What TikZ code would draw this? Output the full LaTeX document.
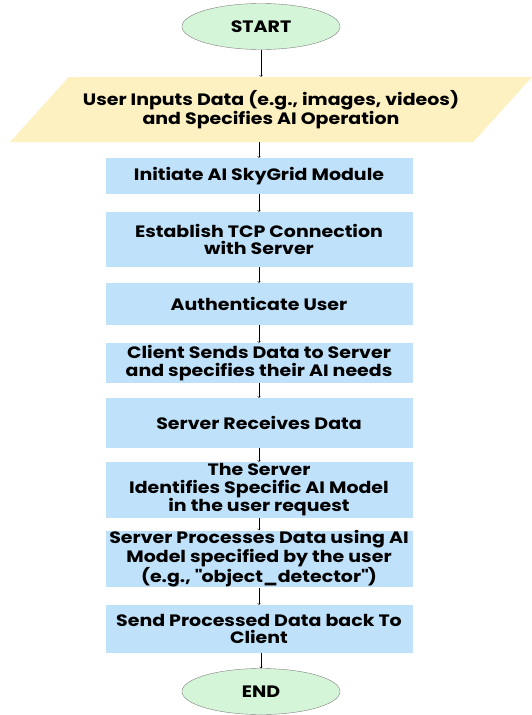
\documentclass[tikz,border=0pt]{standalone}
\usepackage{fontspec}
\setmainfont{Poppins}[FakeStretch=1.15]
\usetikzlibrary{shapes.geometric}

\definecolor{stepblue}{RGB}{191,226,250}
\definecolor{inputyellow}{RGB}{253,240,193}
\definecolor{termgreen}{RGB}{212,245,215}

\begin{document}
\begin{tikzpicture}[x=1pt,y=-1pt,
		font=\fontsize{16.5}{17.5}\selectfont\bfseries,
		term/.style={ellipse,draw=gray,fill=termgreen,minimum width=158pt,minimum height=46pt,inner sep=0pt},
		io/.style={trapezium,trapezium left angle=35,trapezium right angle=145,trapezium stretches,fill=inputyellow,minimum width=522pt,minimum height=65pt,align=center,inner sep=0pt},
		stepbox/.style={rectangle,fill=stepblue,minimum width=307pt,align=center,inner sep=0pt},
		flow/.style={->,thin}]
		\useasboundingbox (0,0) rectangle (531,715);
		\node[term](start) at (261,26.5) {START};
		\node[io](input) at (271,109.5) {User Inputs Data (e.g., images, videos)\\and Specifies AI Operation};
		\node[stepbox,minimum height=36pt](init) at (259,176) {Initiate AI SkyGrid Module};
		\node[stepbox,minimum height=55pt](tcp) at (259,239.5) {Establish TCP Connection\\with Server};
		\node[stepbox,minimum height=42pt](auth) at (259,304) {Authenticate User};
		\node[stepbox,minimum height=40pt](send) at (259,363) {Client Sends Data to Server\\and specifies their AI needs};
		\node[stepbox,minimum height=50pt](recv) at (259,423) {Server Receives Data};
		\node[stepbox,minimum height=56pt](ident) at (259,490) {The Server\\Identifies Specific AI Model\\in the user request};
		\node[stepbox,minimum height=52pt](proc) at (259,559) {Server Processes Data using AI\\Model specified by the user\\(e.g., \textquotedbl object\_detector\textquotedbl)};
		\node[stepbox,minimum height=48pt](back) at (259,629) {Send Processed Data back To\\Client};
		\node[term](end) at (261,691.5) {END};
		\draw[flow] (start.south) -- (start.south |- input.north);
		\draw[flow] (input.south -| init.north) -- (init.north);
		\draw[flow] (init) -- (tcp);
		\draw[flow] (tcp) -- (auth);
		\draw[flow] (auth) -- (send);
		\draw[flow] (send) -- (recv);
		\draw[flow] (recv) -- (ident);
		\draw[flow] (ident) -- (proc);
		\draw[flow] (proc) -- (back);
		\draw[flow] (back.south -| end.north) -- (end.north);
	\end{tikzpicture}
\end{document}
